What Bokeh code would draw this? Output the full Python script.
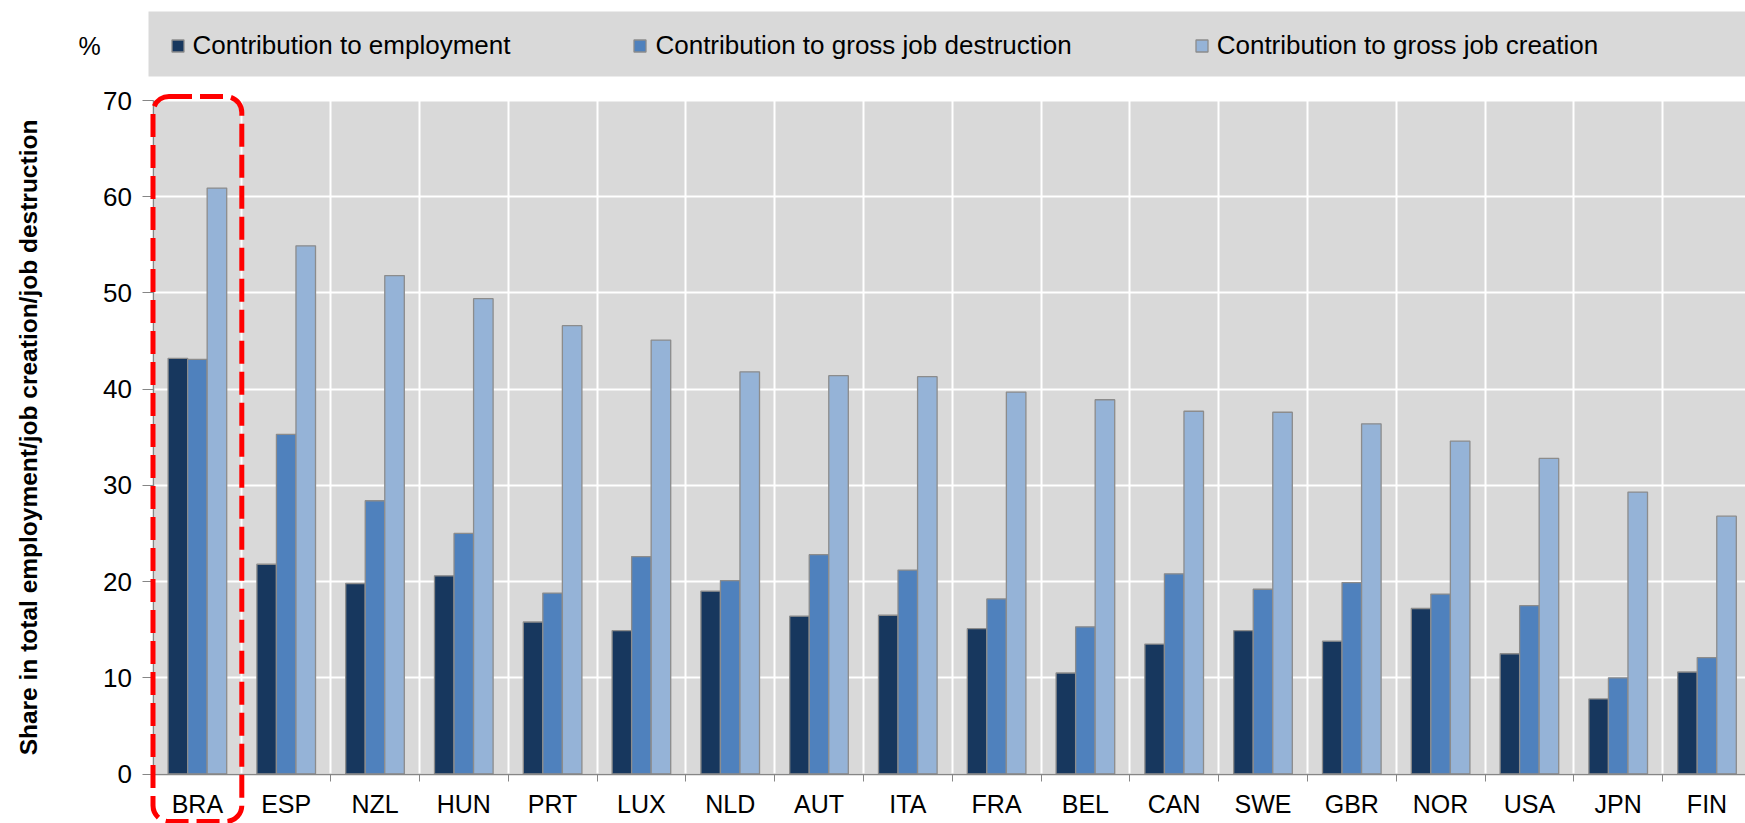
from bokeh.plotting import figure
from bokeh.models import (Range1d, FixedTicker, Legend, LegendItem, BoxAnnotation,
                          Label, ColumnDataSource)
from bokeh.embed import file_html
from bokeh.resources import INLINE

countries = ["BRA", "ESP", "NZL", "HUN", "PRT", "LUX", "NLD", "AUT", "ITA",
             "FRA", "BEL", "CAN", "SWE", "GBR", "NOR", "USA", "JPN", "FIN"]
employment = [43.2, 21.8, 19.8, 20.6, 15.8, 14.9, 19.0, 16.4, 16.5,
              15.1, 10.5, 13.5, 14.9, 13.8, 17.2, 12.5, 7.8, 10.6]
destruction = [43.1, 35.3, 28.4, 25.0, 18.8, 22.6, 20.1, 22.8, 21.2,
               18.2, 15.3, 20.8, 19.2, 19.9, 18.7, 17.5, 10.0, 12.1]
creation = [60.9, 54.9, 51.8, 49.4, 46.6, 45.1, 41.8, 41.4, 41.3,
            39.7, 38.9, 37.7, 37.6, 36.4, 34.6, 32.8, 29.3, 26.8]
series_labels = ["Contribution to employment",
                 "Contribution to gross job destruction",
                 "Contribution to gross job creation"]
y_ticks = [0, 10, 20, 30, 40, 50, 60, 70]
y_title = "Share in total employment/job creation/job destruction"
unit_label = "%"

colors = ["#17375E", "#4F81BD", "#95B3D7"]
FONT = "Liberation Sans"
W, H = 1745, 823
# pixel geometry of the plotting area inside the canvas
X0_PX, CAT_PX = 152.5, 88.8          # x of the y-axis, width of one category
Y70_PX, Y0_PX = 100.0, 773.5         # y of the 70 line and of the 0 line
ppu = (Y0_PX - Y70_PX) / 70.0
x_start = -X0_PX / CAT_PX
x_end = (W - X0_PX) / CAT_PX
y_end = 70 + Y70_PX / ppu
y_start = -(H - Y0_PX) / ppu
BAR_W = 0.22

n = len(countries)
centers = [i + 0.5 for i in range(n)]
src = ColumnDataSource(dict(
    x_emp=[c - BAR_W for c in centers],
    x_des=centers,
    x_cre=[c + BAR_W for c in centers],
    emp=employment, des=destruction, cre=creation,
))

p = figure(width=W, height=H, x_range=Range1d(x_start, x_end),
           y_range=Range1d(y_start, y_end), output_backend="svg",
           toolbar_location=None, min_border=0, min_border_left=0,
           min_border_right=0, min_border_top=0, min_border_bottom=0)
p.background_fill_color = "white"
p.border_fill_color = "white"
p.outline_line_color = None

# grey plotting area (0..70)
p.add_layout(BoxAnnotation(left=0, bottom=0, top=70, fill_color="#D9D9D9",
                           fill_alpha=1, line_alpha=0, level="image"))

rs = []
for xcol, ycol, col in [("x_emp", "emp", colors[0]), ("x_des", "des", colors[1]),
                        ("x_cre", "cre", colors[2])]:
    r = p.vbar(x=xcol, top=ycol, width=BAR_W, source=src, fill_color=col,
               line_color="#8C8C8C", line_width=1.3)
    rs.append(r)

# grids
p.xgrid.ticker = FixedTicker(ticks=list(range(n + 1)))
p.xgrid.grid_line_color = "white"
p.xgrid.grid_line_width = 2
p.ygrid.ticker = FixedTicker(ticks=y_ticks)
p.ygrid.grid_line_color = "white"
p.ygrid.grid_line_width = 2

# y axis
ya = p.yaxis[0]
ya.fixed_location = 0
ya.bounds = (0, 70)
ya.ticker = FixedTicker(ticks=y_ticks)
ya.major_tick_out = 11
ya.major_tick_in = 0
ya.minor_tick_line_color = None
ya.major_tick_line_color = "#868686"
ya.axis_line_color = "#868686"
ya.axis_line_width = 1.5
ya.major_label_standoff = 10
ya.major_label_text_font = FONT
ya.major_label_text_font_size = "26px"
ya.major_label_text_color = "black"
ya.axis_label = y_title
ya.axis_label_text_font = FONT
ya.axis_label_text_font_style = "bold"
ya.axis_label_text_font_size = "24.5px"
ya.axis_label_text_color = "black"
ya.axis_label_standoff = 59

# x axis
xa = p.xaxis[0]
xa.fixed_location = 0
xa.bounds = (0, n)
xa.ticker = FixedTicker(ticks=centers, minor_ticks=list(range(n + 1)))
xa.major_label_overrides = {c: name for c, name in zip(centers, countries)}
xa.major_tick_line_color = None
xa.major_tick_out = 0
xa.major_tick_in = 0
xa.minor_tick_line_color = "#868686"
xa.minor_tick_out = 7
xa.minor_tick_in = 0
xa.axis_line_color = "#868686"
xa.axis_line_width = 1.5
xa.major_label_standoff = 9
xa.major_label_text_font = FONT
xa.major_label_text_font_size = "25px"
xa.major_label_text_color = "black"

# legend band (grey strip running to the right edge) + legend items
p.add_layout(BoxAnnotation(left=148, left_units="screen",
                           top=H - 11, top_units="screen",
                           bottom=H - 76, bottom_units="screen",
                           fill_color="#D9D9D9", fill_alpha=1, line_alpha=0))
items = [LegendItem(label=lab, renderers=[r]) for lab, r in zip(series_labels, rs)]
legend = Legend(items=items, orientation="horizontal", location=(169.5, H - 61),
                background_fill_alpha=0, border_line_color=None,
                label_text_font=FONT, label_text_font_size="26px",
                label_text_color="black", glyph_width=15, glyph_height=15,
                label_standoff=8, spacing=122, padding=0, margin=0)
p.add_layout(legend, "center")

p.add_layout(Label(x=78, y=H - 45, x_units="screen", y_units="screen",
                   text=unit_label, text_font=FONT, text_font_size="25px",
                   text_baseline="middle", text_color="black"))

# highlighted category (red rounded dashed frame)
p.add_layout(BoxAnnotation(left=0, right=1, top=70 + 4 / ppu,
                           bottom=-(821 - Y0_PX) / ppu,
                           fill_alpha=0, line_color="#FF0000", line_alpha=1,
                           line_width=5, line_dash="23 8", border_radius=16))

open("out.html", "w").write(file_html(p, INLINE))
